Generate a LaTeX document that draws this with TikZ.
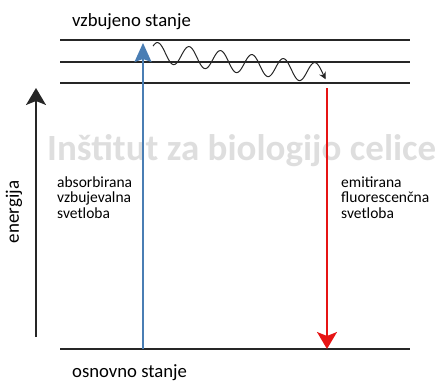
\documentclass[tikz,border=0pt]{standalone}
\usepackage{fontspec}
\setmainfont{Carlito}
\usetikzlibrary{arrows.meta}
\definecolor{absblue}{RGB}{74,126,180}
\definecolor{emred}{RGB}{230,20,20}
\definecolor{wmgray}{RGB}{222,222,222}
\tikzset{
  level/.style={line width=1.6pt,black!85},
  lbl/.style={inner sep=0pt,anchor=base west,font=\fontsize{15.5}{15.5}\selectfont,align=left},
  statelbl/.style={inner sep=0pt,anchor=base west,font=\fontsize{18.7}{20}\selectfont}
}
\begin{document}
\begin{tikzpicture}[x=1pt,y=-1pt]
    \useasboundingbox (0,0) rectangle (441,383);
    %% watermark
    \node[inner sep=0pt,anchor=base west,text=wmgray,font=\fontsize{37}{40}\selectfont\bfseries] (wm) at (47,160) {Inštitut za biologijo celice};
    %% energy levels
    \coordinate (v1l) at (60,40);  \coordinate (v1r) at (410,40);
    \coordinate (v2l) at (60,62);  \coordinate (v2r) at (410,62);
    \coordinate (v3l) at (60,83);  \coordinate (v3r) at (410,83);
    \coordinate (gl) at (60,349);  \coordinate (gr) at (410,349);
    \draw[level] (v1l) -- (v1r);
    \draw[level] (v2l) -- (v2r);
    \draw[level] (v3l) -- (v3r);
    \draw[level] (gl) -- (gr);
    %% energy axis
    \coordinate (ebot) at (36,337);
    \coordinate (etop) at (36,88);
    \draw[line width=1.6pt,black!85,-{Stealth[width=20pt,length=17pt,inset=4pt]}] (ebot) -- (etop);
    \node[rotate=90,inner sep=0pt,font=\fontsize{19}{20}\selectfont] (energ) at (14,212) {energija};
    %% absorption
    \coordinate (abot) at (143,349);
    \coordinate (atop) at (143,43);
    \draw[line width=1.8pt,absblue,-{Stealth[width=17pt,length=19pt,inset=3pt]}] (abot) -- (atop);
    %% relaxation
    \draw[line width=1pt,black!85,-{Stealth[width=7pt,length=7pt]}] plot[domain=0:1,samples=150,smooth]
        ({153+173*\x},{52+22*\x-10*sin(360*(5.5*\x+0.1))});
    %% emission
    \coordinate (etop2) at (327,88);
    \coordinate (ebot2) at (327,349);
    \draw[line width=1.8pt,emred,-{Stealth[width=20pt,length=17pt,inset=4pt]}] (etop2) -- (ebot2);
    %% labels
    \node[statelbl] (exc) at (72,26) {vzbujeno stanje};
    \node[statelbl] (gnd) at (72,377) {osnovno stanje};
    \node[lbl] (abs) at (57,218) {absorbirana\\vzbujevalna\\svetloba};
    \node[lbl] (emi) at (341,218) {emitirana\\fluorescenčna\\svetloba};
\end{tikzpicture}
\end{document}
